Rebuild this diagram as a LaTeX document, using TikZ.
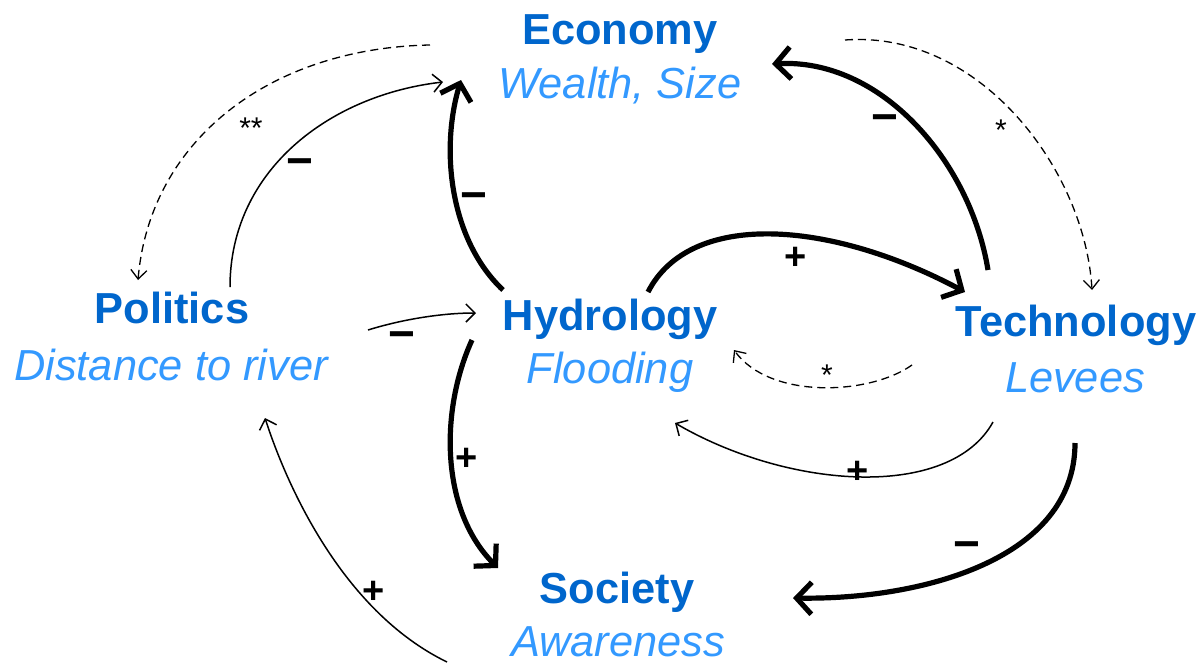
\documentclass[tikz,border=0pt]{standalone}
\usepackage{fontspec}
\setmainfont{Liberation Sans}
\usetikzlibrary{arrows.meta}
\definecolor{dblue}{HTML}{0066CC}
\definecolor{lblue}{HTML}{3399FF}
\begin{document}
\begin{tikzpicture}[x=0.5pt,y=-0.5pt,
  title/.style={font=\fontsize{21.7}{26}\selectfont\bfseries, text=dblue, inner sep=0, anchor=base},
  sub/.style={font=\fontsize{21.7}{26}\selectfont\itshape, text=lblue, inner sep=0, anchor=base},
  bigarrow/.style={line width=2.6pt, -{Straight Barb[length=7.5pt,width=16pt]}},
  thinarrow/.style={line width=0.75pt, -{Straight Barb[length=4.5pt,width=9pt]}},
  dasharrow/.style={line width=0.65pt, dash pattern=on 4pt off 2.5pt, -{Straight Barb[length=4.5pt,width=8pt]}},
  minus/.style={font=\fontsize{23}{26}\selectfont\bfseries, inner sep=0},
  plus/.style={font=\fontsize{19}{22}\selectfont\bfseries, inner sep=0},
  star/.style={font=\fontsize{15}{17}\selectfont, inner sep=0}
]
\useasboundingbox (0,0) rectangle (1200,665);
\fill[white] (0,0) rectangle (1200,665);

% nodes
\node[title] (eco) at (620,44) {Economy};
\node[sub] (ecos) at (620,98) {Wealth, Size};
\node[title] (pol) at (172,323) {Politics};
\node[sub] (pols) at (171,380) {Distance to river};
\node[title] (hyd) at (610,330) {Hydrology};
\node[sub] (hyds) at (610,383) {Flooding};
\node[title] (tec) at (1076,336) {Technology};
\node[sub] (tecs) at (1075,392) {Levees};
\node[title] (soc) at (617,603) {Society};
\node[sub] (socs) at (618,656) {Awareness};

% connector end points
\coordinate (ecoDashOut) at (430,45);
\coordinate (polDashIn) at (138,280);
\coordinate (polOut) at (230,287);
\coordinate (ecoInL) at (443,82);
\coordinate (hydUpOut) at (503,290);
\coordinate (ecoInH) at (461,80);
\coordinate (tecUpOut) at (988,270);
\coordinate (ecoInR) at (772,64);
\coordinate (ecoDashOutR) at (845,40);
\coordinate (tecDashIn) at (1092,290);
\coordinate (hydRightOut) at (648,292);
\coordinate (tecInL) at (965,292);
\coordinate (tecDashOut) at (912,365);
\coordinate (hydDashIn) at (734,350);
\coordinate (polRightOut) at (368,330);
\coordinate (hydInL) at (476,313);
\coordinate (hydDownOut) at (472,340);
\coordinate (socInH) at (498,568);
\coordinate (tecThinOut) at (993,422);
\coordinate (hydInBot) at (675,423);
\coordinate (tecDownOut) at (1075,443);
\coordinate (socInR) at (793,598);
\coordinate (socUpOut) at (447,662);
\coordinate (polInBot) at (265,418);

% connectors
\draw[dasharrow] (ecoDashOut) .. controls (270,48) and (150,140) .. (polDashIn);
\node[star] (l1) at (251,128) {**};
\draw[thinarrow] (polOut) .. controls (230,170) and (330,95) .. (ecoInL);
\node[minus] (l2) at (300,168) {\textminus};
\draw[bigarrow] (hydUpOut) .. controls (450,240) and (440,150) .. (ecoInH);
\node[minus] (l3) at (474,202) {\textminus};
\draw[bigarrow] (tecUpOut) .. controls (970,160) and (880,58) .. (ecoInR);
\node[minus] (l4) at (885,124) {\textminus};
\draw[dasharrow] (ecoDashOutR) .. controls (980,30) and (1085,170) .. (tecDashIn);
\node[star] (l5) at (1001,130) {*};
\draw[bigarrow] (hydRightOut) .. controls (690,210) and (830,220) .. (tecInL);
\node[plus] (l6) at (796,258) {+};
\draw[dasharrow] (tecDashOut) .. controls (870,395) and (770,400) .. (hydDashIn);
\node[star] (l7) at (827,375) {*};
\draw[thinarrow] (polRightOut) .. controls (400,320) and (440,313) .. (hydInL);
\node[minus] (l8) at (402,341) {\textminus};
\draw[bigarrow] (hydDownOut) .. controls (440,410) and (440,510) .. (socInH);
\node[plus] (l9) at (467,459) {+};
\draw[thinarrow] (tecThinOut) .. controls (950,500) and (790,490) .. (hydInBot);
\node[plus] (l10) at (858,472) {+};
\draw[bigarrow] (tecDownOut) .. controls (1075,560) and (920,600) .. (socInR);
\node[minus] (l11) at (967,551) {\textminus};
\draw[thinarrow] (socUpOut) .. controls (340,610) and (285,480) .. (polInBot);
\node[plus] (l12) at (374,592) {+};
\end{tikzpicture}
\end{document}
